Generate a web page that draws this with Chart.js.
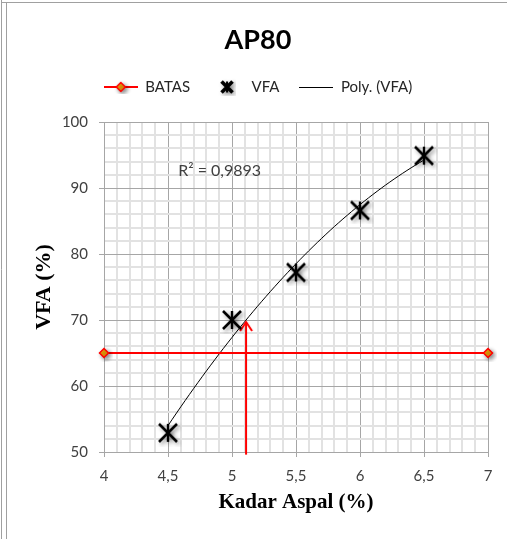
<!DOCTYPE html>
<html>
<head>
<meta charset="utf-8">
<script src="https://cdn.jsdelivr.net/npm/chart.js@4.4.1/dist/chart.umd.min.js"></script>
<style>
    html, body { margin: 0; padding: 0; background: #fff; }
    #wrap { width: 507px; height: 539px; }
</style>
</head>
<body>
<div id="wrap"><canvas id="vfa-chart" width="507" height="539"></canvas></div>
<script>
// VFA per kadar aspal (AP80)
const kadarAspal = [4.5, 5, 5.5, 6, 6.5];
const vfaValues = [52.9, 70.0, 77.2, 86.6, 94.9];

// batas minimum VFA
const batasX = [4, 7];
const batasY = [65, 65];

// panah penunjuk kadar aspal
const arrowX = [5.11, 5.11];
const arrowY = [49.6, 69.7];

// label sumbu
const xTickLabels = [4, 4.5, 5, 5.5, 6, 6.5, 7];
const yTickLabels = [50, 60, 70, 80, 90, 100];

const r2Label = 'R² = 0,9893';
const r2At = [4.58, 92.6];

const isLabelled = (list, v) => list.some(t => Math.abs(t - v) < 1e-9);
const fmt = v => String(v).replace('.', ',');

// least squares y = a + b x + c x^2
function quadFit(xs, ys) {
    const s = [0, 0, 0, 0, 0];
    const t = [0, 0, 0];
    xs.forEach((x, i) => {
        let p = 1;
        for (let k = 0; k < 5; k++) {
            s[k] += p;
            if (k < 3) t[k] += p * ys[i];
            p *= x;
        }
    });
    const det = m => m[0][0] * (m[1][1] * m[2][2] - m[1][2] * m[2][1])
        - m[0][1] * (m[1][0] * m[2][2] - m[1][2] * m[2][0])
        + m[0][2] * (m[1][0] * m[2][1] - m[1][1] * m[2][0]);
    const M = [[s[0], s[1], s[2]], [s[1], s[2], s[3]], [s[2], s[3], s[4]]];
    const D = det(M);
    const coef = [0, 1, 2].map(col => det(M.map((row, r) => row.map((v, c) => (c === col ? t[r] : v)))) / D);
    return x => coef[0] + coef[1] * x + coef[2] * x * x;
}

const poly = quadFit(kadarAspal, vfaValues);
const polyPoints = [];
const xFrom = kadarAspal[0];
const xTo = kadarAspal[kadarAspal.length - 1];
for (let i = 0; i <= 60; i++) {
    const x = xFrom + (xTo - xFrom) * i / 60;
    polyPoints.push({ x, y: poly(x) });
}

function makeCanvas(w, h) {
    const c = document.createElement('canvas');
    c.width = w;
    c.height = h;
    return c;
}

function withShadow(g) {
    g.shadowColor = 'rgba(0,0,0,0.45)';
    g.shadowBlur = 4;
    g.shadowOffsetX = 2;
    g.shadowOffsetY = 2;
}

function starMarker(size, arm, lw, vlw) {
    const c = makeCanvas(size, size);
    const g = c.getContext('2d');
    const m = size / 2;
    withShadow(g);
    g.strokeStyle = '#000';
    g.lineWidth = lw;
    g.beginPath();
    g.moveTo(m - arm, m - arm); g.lineTo(m + arm, m + arm);
    g.moveTo(m + arm, m - arm); g.lineTo(m - arm, m + arm);
    g.stroke();
    g.lineWidth = vlw;
    g.beginPath();
    g.moveTo(m, m - arm); g.lineTo(m, m + arm);
    g.stroke();
    return c;
}

function drawDiamond(g, cx, cy, r) {
    g.beginPath();
    g.moveTo(cx, cy - r); g.lineTo(cx + r, cy); g.lineTo(cx, cy + r); g.lineTo(cx - r, cy);
    g.closePath();
    g.fillStyle = '#f5a40a';
    g.fill();
    g.strokeStyle = '#ff0000';
    g.lineWidth = 1.5;
    g.stroke();
}

function diamondMarker() {
    const c = makeCanvas(18, 18);
    const g = c.getContext('2d');
    withShadow(g);
    drawDiamond(g, 9, 9, 4.5);
    return c;
}

function batasIcon() {
    const c = makeCanvas(34, 14);
    const g = c.getContext('2d');
    g.strokeStyle = '#ff0000';
    g.lineWidth = 2;
    g.beginPath(); g.moveTo(0, 7); g.lineTo(34, 7); g.stroke();
    withShadow(g);
    drawDiamond(g, 17, 7, 4.5);
    return c;
}

function polyIcon() {
    const c = makeCanvas(34, 14);
    const g = c.getContext('2d');
    g.strokeStyle = '#000';
    g.lineWidth = 1;
    g.beginPath(); g.moveTo(0, 7.5); g.lineTo(34, 7.5); g.stroke();
    return c;
}

function arrowHead() {
    const c = makeCanvas(20, 20);
    const g = c.getContext('2d');
    g.strokeStyle = '#ff0000';
    g.lineWidth = 2;
    g.beginPath();
    g.moveTo(4, 19); g.lineTo(10, 10); g.lineTo(16, 19);
    g.stroke();
    return c;
}

const starImg = starMarker(28, 9, 2.6, 2.4);
const diamondImg = diamondMarker();
const arrowImg = arrowHead();
const legendIcons = [batasIcon(), starMarker(18, 5.5, 3.6, 2), polyIcon()];

const frameAndNote = {
    id: 'frameAndNote',
    beforeDraw(chart) {
        const g = chart.ctx;
        g.save();
        g.fillStyle = '#fff';
        g.fillRect(0, 0, chart.width, chart.height);
        g.strokeStyle = '#a0a0a0';
        g.lineWidth = 1;
        g.beginPath();
        g.moveTo(1.5, 0); g.lineTo(1.5, chart.height);
        g.moveTo(6.5, 3); g.lineTo(6.5, chart.height);
        g.moveTo(1, 2.5); g.lineTo(chart.width, 2.5);
        g.stroke();
        g.restore();
    },
    beforeDatasetsDraw(chart) {
        const g = chart.ctx;
        const { x, y } = chart.scales;
        g.save();
        g.font = '16px Lato';
        g.fillStyle = '#404040';
        g.textAlign = 'left';
        g.textBaseline = 'middle';
        g.fillText(r2Label, x.getPixelForValue(r2At[0]), y.getPixelForValue(r2At[1]));
        g.restore();
    }
};

const tickFont = { family: 'Lato', size: 15 };

new Chart(document.getElementById('vfa-chart'), {
    type: 'scatter',
    data: {
        datasets: [
            {
                label: 'BATAS',
                data: batasX.map((x, i) => ({ x, y: batasY[i] })),
                showLine: true,
                borderColor: '#ff0000',
                borderWidth: 2,
                pointStyle: diamondImg,
                pointRadius: 5,
                clip: false,
                order: 2
            },
            {
                label: 'VFA',
                data: kadarAspal.map((x, i) => ({ x, y: vfaValues[i] })),
                showLine: false,
                pointStyle: starImg,
                pointRadius: 9,
                clip: false,
                order: 0
            },
            {
                label: 'Poly. (VFA)',
                data: polyPoints,
                showLine: true,
                borderColor: '#000',
                borderWidth: 1,
                pointRadius: 0,
                order: 3
            },
            {
                label: 'panah',
                data: arrowX.map((x, i) => ({ x, y: arrowY[i] })),
                showLine: true,
                borderColor: '#ff0000',
                borderWidth: 2,
                pointStyle: arrowImg,
                pointRadius: ctx => (ctx.dataIndex === 1 ? 5 : 0),
                clip: false,
                order: 1
            }
        ]
    },
    options: {
        responsive: false,
        animation: false,
        events: [],
        layout: { padding: { left: 28, right: 19, top: 0, bottom: 0 } },
        plugins: {
            tooltip: { enabled: false },
            title: {
                display: true,
                text: 'AP80',
                color: '#000',
                font: { family: 'Lato', size: 27, weight: 'bold', lineHeight: 1 },
                padding: { top: 26.5, bottom: 6 }
            },
            subtitle: {
                display: true,
                text: '',
                weight: 500,
                padding: 0,
                font: { size: 17.5, lineHeight: 1 }
            },
            legend: {
                position: 'top',
                labels: {
                    usePointStyle: true,
                    pointStyleWidth: 34,
                    padding: 20,
                    color: '#262626',
                    font: { family: 'Lato', size: 15 },
                    filter: item => item.datasetIndex !== 3,
                    sort: (a, b) => a.datasetIndex - b.datasetIndex,
                    generateLabels: chart => Chart.defaults.plugins.legend.labels.generateLabels(chart)
                        .map(item => ({ ...item, pointStyle: legendIcons[item.datasetIndex] || item.pointStyle }))
                }
            }
        },
        scales: {
            x: {
                type: 'linear',
                min: 4,
                max: 7,
                afterFit: s => { s.height = 87; },
                ticks: {
                    stepSize: 0.1,
                    autoSkip: false,
                    maxRotation: 0,
                    padding: 10,
                    color: '#404040',
                    font: tickFont,
                    callback: v => (isLabelled(xTickLabels, v) ? fmt(v) : '')
                },
                grid: {
                    color: c => (isLabelled(xTickLabels, c.tick.value) ? '#a6a6a6' : '#e2e2e2'),
                    lineWidth: c => (isLabelled(xTickLabels, c.tick.value) ? 1 : 2),
                    tickColor: c => (isLabelled(xTickLabels, c.tick.value) ? '#a6a6a6' : 'rgba(0,0,0,0)'),
                    tickWidth: 1,
                    tickLength: 5
                },
                border: { color: '#a6a6a6', width: 1 },
                title: {
                    display: true,
                    text: 'Kadar Aspal (%)',
                    color: '#000',
                    font: { family: 'Liberation Serif', size: 21, weight: 'bold' },
                    padding: { top: 0, bottom: 23.6 }
                }
            },
            y: {
                type: 'linear',
                min: 50,
                max: 100,
                afterFit: s => { s.width = 76; },
                ticks: {
                    stepSize: 2,
                    autoSkip: false,
                    padding: 11,
                    color: '#404040',
                    font: tickFont,
                    callback: v => (isLabelled(yTickLabels, v) ? String(v) : '')
                },
                grid: {
                    color: c => (isLabelled(yTickLabels, c.tick.value) ? '#a6a6a6' : '#e2e2e2'),
                    lineWidth: c => (isLabelled(yTickLabels, c.tick.value) ? 1 : 2),
                    tickColor: c => (isLabelled(yTickLabels, c.tick.value) ? '#a6a6a6' : 'rgba(0,0,0,0)'),
                    tickWidth: 1,
                    tickLength: 5
                },
                border: { color: '#a6a6a6', width: 1 },
                title: {
                    display: true,
                    text: 'VFA (%)',
                    color: '#000',
                    font: { family: 'Liberation Serif', size: 22, weight: 'bold' },
                    padding: { top: 3, bottom: 0 }
                }
            }
        }
    },
    plugins: [frameAndNote]
});
</script>
</body>
</html>
